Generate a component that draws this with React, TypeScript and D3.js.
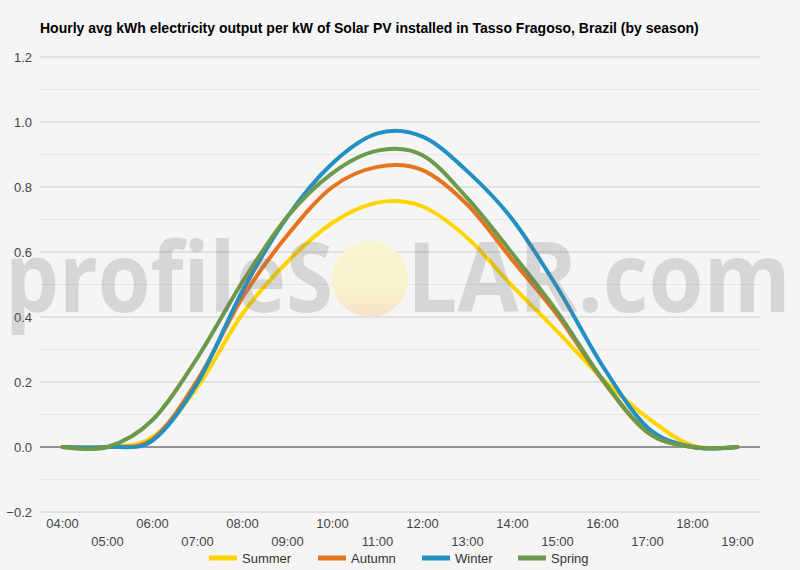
import React from "react";
import * as d3 from "d3";

const hours = ["04:00","05:00","06:00","07:00","08:00","09:00","10:00","11:00","12:00","13:00","14:00","15:00","16:00","17:00","18:00","19:00"];
const summer = [0, 0, 0.03, 0.185, 0.41, 0.57, 0.69, 0.752, 0.74, 0.643, 0.495, 0.355, 0.21, 0.09, 0.005, 0];
const autumn = [0, 0, 0.024, 0.206, 0.46, 0.652, 0.80, 0.862, 0.852, 0.745, 0.575, 0.405, 0.205, 0.045, 0, 0];
const winter = [0, 0, 0.02, 0.197, 0.48, 0.709, 0.873, 0.965, 0.955, 0.848, 0.70, 0.49, 0.25, 0.06, 0, 0];
const spring = [0, 0, 0.083, 0.275, 0.508, 0.709, 0.843, 0.912, 0.898, 0.765, 0.595, 0.415, 0.208, 0.046, 0, 0];
const seriesNames = ["Summer", "Autumn", "Winter", "Spring"];
const seriesColors = ["#FFD500", "#E8731E", "#2290C2", "#6B9A4C"];
const yTicks = [-0.2, 0, 0.2, 0.4, 0.6, 0.8, 1.0, 1.2];
const yMinor = [-0.1, 0.1, 0.3, 0.5, 0.7, 0.9, 1.1];
const title = "Hourly avg kWh electricity output per kW of Solar PV installed in Tasso Fragoso, Brazil (by season)";

const W = 800, H = 570;
const left = 40, right = 760, top = 57, bottom = 512;
const font = "Arial, 'Liberation Sans', sans-serif";

export default function App() {
  const x = d3.scaleBand<string>().domain(hours).range([left, right]);
  const cx = (h: string) => (x(h) as number) + x.bandwidth() / 2;
  const y = d3.scaleLinear().domain([-0.2, 1.2]).range([bottom, top]);
  const data = [summer, autumn, winter, spring];
  const line = d3.line<number>()
    .x((_, i) => cx(hours[i]))
    .y((v) => y(v))
    .curve(d3.curveCardinal.tension(0));

  const legendX = [209, 318, 422, 518];

  return (
    <div style={{ position: "fixed", left: 0, top: 0 }}>
      <svg width={W} height={H} style={{ display: "block" }}>
        <defs>
          <linearGradient id="sun" x1="0" y1="0" x2="0" y2="1">
            <stop offset="0" stopColor="#f8f7cf" />
            <stop offset="0.6" stopColor="#f8f2cc" />
            <stop offset="1" stopColor="#f7e2c8" />
          </linearGradient>
        </defs>
        <rect width={W} height={H} fill="#f5f5f5" />
        <text x={40} y={33} fontFamily={font} fontSize={14} fontWeight="bold" fill="#000">{title}</text>
        {yMinor.map((v) => (
          <line key={"m" + v} x1={left} x2={right} y1={y(v)} y2={y(v)} stroke="#e6e6e6" strokeWidth={1} />
        ))}
        {yTicks.map((v) => (
          <g key={"t" + v}>
            <line x1={left} x2={right} y1={y(v)} y2={y(v)} stroke={v === 0 ? "#333" : "#cccccc"} strokeWidth={1} />
            <text x={32} y={y(v)} dy="0.35em" textAnchor="end" fontFamily={font} fontSize={13} fill="#444">{d3.format(".1f")(v)}</text>
          </g>
        ))}
        <circle cx={370} cy={279} r={38} fill="url(#sun)" />
        {data.map((s, i) => (
          <path key={seriesNames[i]} d={line(s) || ""} fill="none" stroke={seriesColors[i]} strokeWidth={4} strokeLinejoin="round" strokeLinecap="round" />
        ))}
        <g fontFamily="'Open Sans', sans-serif" fontSize={97} fontWeight="bold" fill="rgb(120,120,120)" opacity={0.24}>
          <text x={5} y={312} textLength={328} lengthAdjust="spacingAndGlyphs">profileS</text>
          <text x={407} y={312} textLength={384} lengthAdjust="spacingAndGlyphs">LAR.com</text>
        </g>
        {hours.map((h, i) => (
          <text key={h} x={cx(h)} y={i % 2 === 0 ? 528 : 546} textAnchor="middle" fontFamily={font} fontSize={13} fill="#444">{h}</text>
        ))}
        {seriesNames.map((n, i) => (
          <g key={n}>
            <rect x={legendX[i]} y={555.5} width={28} height={5} fill={seriesColors[i]} />
            <text x={legendX[i] + 33} y={558} dy="0.35em" fontFamily={font} fontSize={13} fill="#333">{n}</text>
          </g>
        ))}
      </svg>
    </div>
  );
}
